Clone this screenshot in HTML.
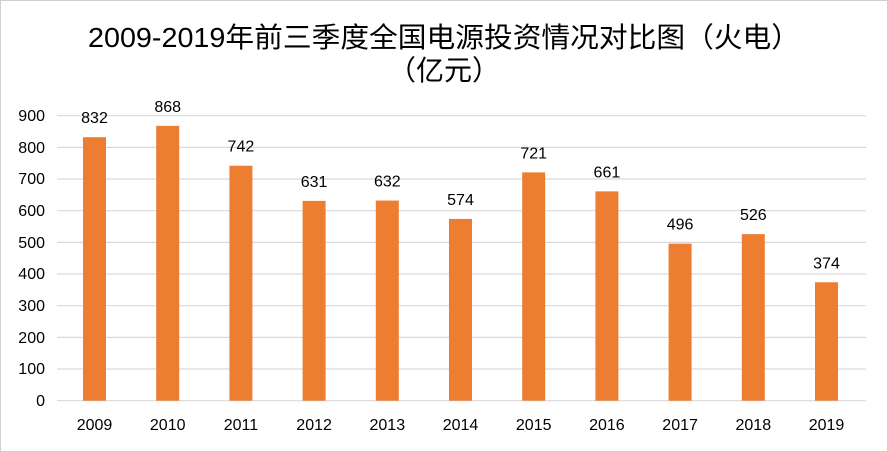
<!DOCTYPE html>
<html><head><meta charset="utf-8"><style>
body{margin:0;background:#fff}
svg{display:block}
</style></head><body>
<svg width="888" height="452" xmlns="http://www.w3.org/2000/svg" font-family="Liberation Sans, 'Noto Sans CJK SC', sans-serif">
<rect x="0.5" y="0.5" width="887" height="451" fill="#fff" stroke="#d0d0d0"/>
<text x="444" y="47" font-size="28" text-anchor="middle" fill="#000" textLength="712" lengthAdjust="spacingAndGlyphs" font-family="Liberation Sans, 'Noto Sans CJK SC', sans-serif">2009-2019年前三季度全国电源投资情况对比图（火电）</text>
<text x="444" y="80" font-size="28" text-anchor="middle" fill="#000" font-family="Liberation Sans, 'Noto Sans CJK SC', sans-serif">（亿元）</text>
<g stroke="#d9d9d9" stroke-width="1.2">
<line x1="57" x2="866" y1="115.7" y2="115.7"/><line x1="57" x2="866" y1="147.4" y2="147.4"/>
<line x1="57" x2="866" y1="179" y2="179"/><line x1="57" x2="866" y1="210.7" y2="210.7"/>
<line x1="57" x2="866" y1="242.4" y2="242.4"/><line x1="57" x2="866" y1="274" y2="274"/>
<line x1="57" x2="866" y1="305.7" y2="305.7"/><line x1="57" x2="866" y1="337.4" y2="337.4"/>
<line x1="57" x2="866" y1="369" y2="369"/><line x1="57" x2="866" y1="400.7" y2="400.7"/>
</g>
<g font-size="16" text-anchor="end" fill="#000">
<text x="45" y="121">900</text><text x="45" y="153">800</text><text x="45" y="184">700</text>
<text x="45" y="216">600</text><text x="45" y="248">500</text><text x="45" y="279">400</text>
<text x="45" y="311">300</text><text x="45" y="343">200</text><text x="45" y="374">100</text>
<text x="45" y="406">0</text>
</g>
<g id="bars" fill="#ed7d31"></g>
<g id="lbl" font-size="16" text-anchor="middle" fill="#000"></g>
<script>
var v=[832,868,742,631,632,574,721,661,496,526,374];
var b=document.getElementById('bars'),l=document.getElementById('lbl'),ns='http://www.w3.org/2000/svg';
v.forEach(function(d,i){
var c=94.5+i*73.2,h=d*0.31667,y=400.7-h;
var r=document.createElementNS(ns,'rect');r.setAttribute('x',c-11.5);r.setAttribute('y',y);r.setAttribute('width',23);r.setAttribute('height',h);b.appendChild(r);
var t=document.createElementNS(ns,'text');t.setAttribute('x',c);t.setAttribute('y',y-14);t.textContent=d;l.appendChild(t);
var t2=document.createElementNS(ns,'text');t2.setAttribute('x',c);t2.setAttribute('y',430);t2.textContent=2009+i;l.appendChild(t2);
});
</script>
</svg>
</body></html>
